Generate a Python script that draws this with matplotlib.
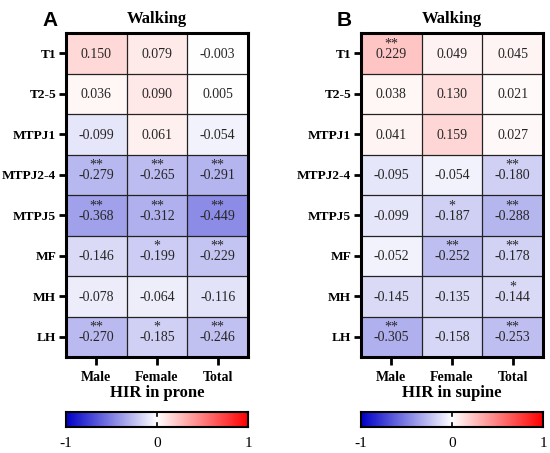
import numpy as np
import matplotlib
matplotlib.use("Agg")
import matplotlib.pyplot as plt
from matplotlib.colors import LinearSegmentedColormap

rows = ["T1", "T2-5", "MTPJ1", "MTPJ2-4", "MTPJ5", "MF", "MH", "LH"]
cols = ["Male", "Female", "Total"]

prone_r = [[0.150, 0.079, -0.003],
           [0.036, 0.090, 0.005],
           [-0.099, 0.061, -0.054],
           [-0.279, -0.265, -0.291],
           [-0.368, -0.312, -0.449],
           [-0.146, -0.199, -0.229],
           [-0.078, -0.064, -0.116],
           [-0.270, -0.185, -0.246]]
prone_sig = [["", "", ""],
             ["", "", ""],
             ["", "", ""],
             ["**", "**", "**"],
             ["**", "**", "**"],
             ["", "*", "**"],
             ["", "", ""],
             ["**", "*", "**"]]

supine_r = [[0.229, 0.049, 0.045],
            [0.038, 0.130, 0.021],
            [0.041, 0.159, 0.027],
            [-0.095, -0.054, -0.180],
            [-0.099, -0.187, -0.288],
            [-0.052, -0.252, -0.178],
            [-0.145, -0.135, -0.144],
            [-0.305, -0.158, -0.253]]
supine_sig = [["**", "", ""],
              ["", "", ""],
              ["", "", ""],
              ["", "", "**"],
              ["", "*", "**"],
              ["", "**", "**"],
              ["", "", "*"],
              ["**", "", "**"]]

panels = [("A", "HIR in prone", prone_r, prone_sig),
          ("B", "HIR in supine", supine_r, supine_sig)]

cmap = LinearSegmentedColormap.from_list("bwr_gp", ["#0000c8", "#ffffff", "#ff0000"])
serif = "Liberation Serif"

fig = plt.figure(figsize=(5.5, 4.53), dpi=100)

lefts = [66 / 550, 361 / 550]
W, H = 550, 453
for (letter, xlab, vals, sig), left in zip(panels, lefts):
    ax = fig.add_axes([left, (H - 357) / H, 182 / W, 324 / H])
    data = np.array(vals)
    ax.pcolormesh(np.arange(4), np.arange(9), data, cmap=cmap, vmin=-1, vmax=1,
                  edgecolor="none")
    ax.set_xlim(0, 3)
    ax.set_ylim(8, 0)
    # thin cell borders
    for k in range(1, 8):
        ax.axhline(k, color="#222222", lw=0.9)
    for k in range(1, 3):
        ax.axvline(k, color="#222222", lw=0.9)
    for i in range(len(rows)):
        for j in range(len(cols)):
            txt = f"{data[i, j]:.3f}"
            if sig[i][j]:
                txt = sig[i][j] + "\n" + txt
            ax.text(j + 0.5, i + 0.69, txt, ha="center", va="bottom",
                    multialignment="center", linespacing=0.76,
                    fontsize=10, family=serif, color="#262626")
    ax.set_xticks(np.arange(3) + 0.5)
    ax.set_xticklabels(cols, family=serif, fontweight="bold", fontsize=10)
    ax.set_yticks(np.arange(8) + 0.5)
    ax.set_yticklabels(rows, family=serif, fontweight="bold", fontsize=9.6)
    ax.tick_params(axis="y", length=5, width=2, pad=2)
    ax.tick_params(axis="x", length=6, width=2, pad=4)
    for s in ax.spines.values():
        s.set_linewidth(2.2)
    ax.set_xlabel(xlab, family=serif, fontweight="bold", fontsize=12, labelpad=1)
    ax.set_title("Walking", family=serif, fontweight="bold", fontsize=12, pad=7)
    ax.text(-0.09, 1.04, letter, transform=ax.transAxes, ha="center", va="center",
            fontsize=15, fontweight="bold", family="Liberation Sans")

    # colour bar
    cax = fig.add_axes([left, (H - 427) / H, 182 / W, 15 / H])
    grad = np.linspace(-1, 1, 256).reshape(1, -1)
    cax.imshow(grad, cmap=cmap, vmin=-1, vmax=1, aspect="auto",
               extent=[-1, 1, 0, 1])
    cax.set_xlim(-1, 1)
    cax.set_yticks([])
    cax.set_xticks([-1, 0, 1])
    cax.set_xticklabels(["-1", "0", "1"], family=serif, fontsize=11)
    cax.tick_params(axis="x", length=0, pad=7)
    cax.axvline(0, 0, 0.25, color="black", lw=1.2)
    cax.axvline(0, 0.75, 1, color="black", lw=1.2)
    for s in cax.spines.values():
        s.set_linewidth(1.5)

fig.savefig("out.png", dpi=100)
